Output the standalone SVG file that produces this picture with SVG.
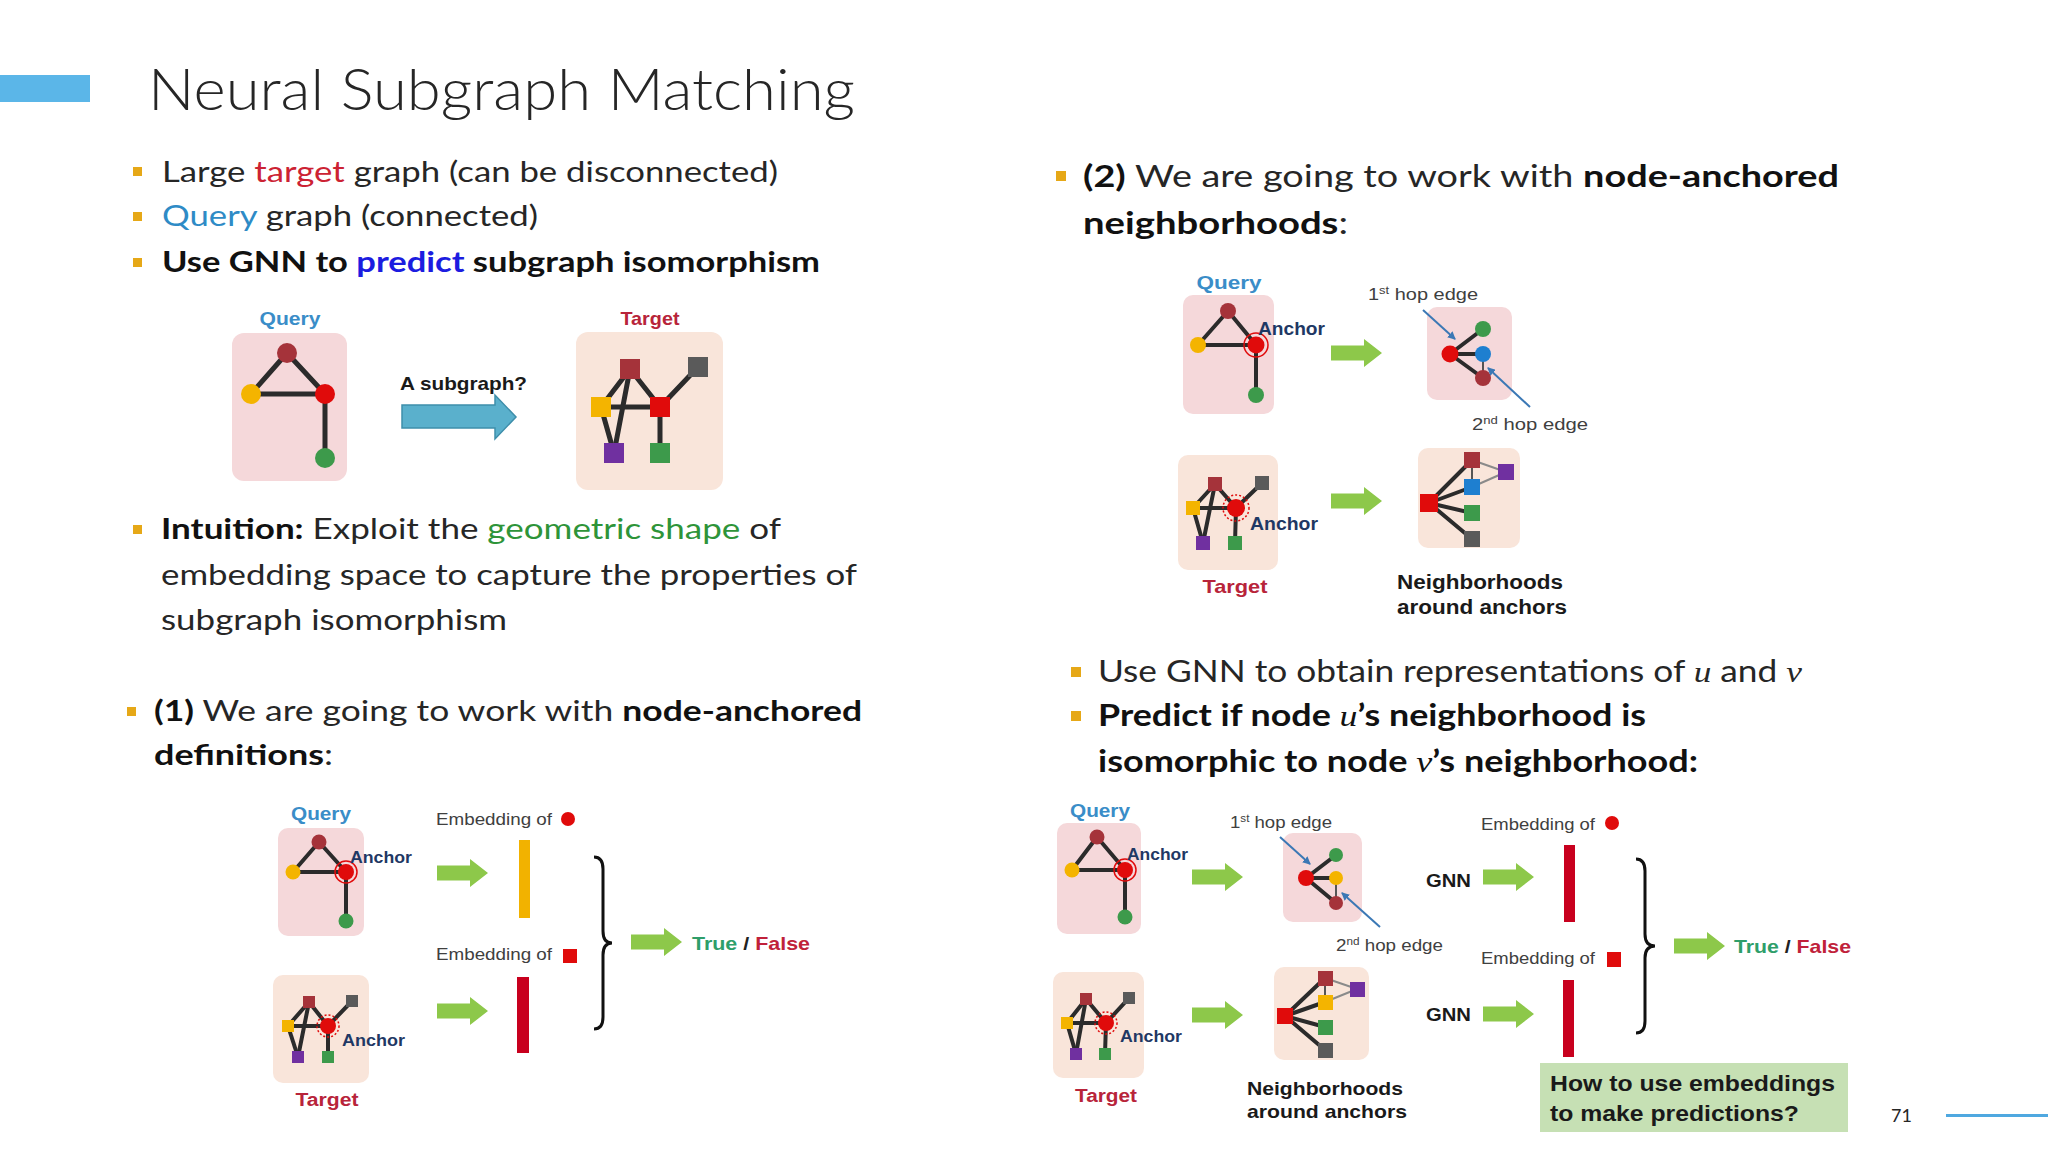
<svg xmlns="http://www.w3.org/2000/svg" xmlns:xlink="http://www.w3.org/1999/xlink" width="2048" height="1152" viewBox="0 0 2048 1152">
<style>
.t{font-family:Lato,'Open Sans','Liberation Sans',sans-serif;fill:#262626}
.bd{font-weight:700;fill:#111}
.f{font-family:'Liberation Sans',Arial,sans-serif}
.e{stroke:#2b2b2b;stroke-width:4;stroke-linecap:round}
.e5{stroke-width:5}
.thin{stroke:#555;stroke-width:2}
.thinl{stroke:#8a8a8a;stroke-width:2}
.qb{fill:#F5D8DA}
.tb{fill:#F9E5DA}
.mar{fill:#A5333A}
.red{fill:#E00B0B}
.yel{fill:#F4B400}
.grn{fill:#3D9A4B}
.pur{fill:#7030A0}
.gry{fill:#5A5A5A}
.blu{fill:#1E7FD0}
.ring{fill:none;stroke:#E00B0B;stroke-width:1.5}
.dring{fill:none;stroke:#E00B0B;stroke-width:1.5;stroke-dasharray:2 2}
.ga{fill:#8DC84A}
.ptr{stroke:#3B78B5;stroke-width:2;marker-end:url(#ah)}
.brace{fill:none;stroke:#111;stroke-width:3}
.bul{fill:#E6A817}
.ql{fill:#3A8DC8;font-weight:700}
.tl{fill:#B8243A;font-weight:700}
.an{fill:#1F3864;font-weight:700}
.sm{fill:#404040}
.bk{fill:#1a1a1a;font-weight:700}
.m{font-family:'Liberation Serif',serif;font-style:italic;font-weight:400}
</style>
<defs>
<path id="ga" class="ga" d="M0,-7.5H33V-14L51,0L33,14V7.5H0Z"/>
<marker id="ah" markerWidth="8" markerHeight="8" refX="7" refY="4" orient="auto" markerUnits="userSpaceOnUse"><path d="M0,0L8,4L0,8Z" fill="#3B78B5"/></marker>
</defs>
<rect width="2048" height="1152" fill="#ffffff"/>

<g id="header">
<rect x="0" y="75" width="90" height="27" fill="#5BB6E8"/>
<text x="148" y="110" class="t" font-size="58" font-weight="300" fill="#2a2a2a" textLength="707" lengthAdjust="spacingAndGlyphs">Neural Subgraph Matching</text>
</g>

<g id="bullets-left">
<rect class="bul" x="133" y="167" width="9" height="9"/>
<text x="162" y="182" class="t" font-size="29" textLength="616" lengthAdjust="spacingAndGlyphs">Large <tspan fill="#CC2233">target</tspan> graph (can be disconnected)</text>
<rect class="bul" x="133" y="212" width="9" height="9"/>
<text x="162" y="226" class="t" font-size="29" textLength="376" lengthAdjust="spacingAndGlyphs"><tspan fill="#2E8BC6">Query</tspan> graph (connected)</text>
<rect class="bul" x="133" y="258" width="9" height="9"/>
<text x="162" y="272" class="t bd" font-size="29" textLength="658" lengthAdjust="spacingAndGlyphs">Use GNN to <tspan fill="#1C1CE0">predict</tspan> subgraph isomorphism</text>

<rect class="bul" x="133" y="525" width="9" height="9"/>
<text x="161" y="539" class="t" font-size="29" textLength="620" lengthAdjust="spacingAndGlyphs"><tspan class="bd">Intuition:</tspan> Exploit the <tspan fill="#2E9439">geometric shape</tspan> of</text>
<text x="161" y="585" class="t" font-size="29" textLength="696" lengthAdjust="spacingAndGlyphs">embedding space to capture the properties of</text>
<text x="161" y="630" class="t" font-size="29" textLength="346" lengthAdjust="spacingAndGlyphs">subgraph isomorphism</text>

<rect class="bul" x="127" y="707" width="9" height="9"/>
<text x="154" y="721" class="t" font-size="29" textLength="708" lengthAdjust="spacingAndGlyphs"><tspan class="bd">(1)</tspan> We are going to work with <tspan class="bd">node-anchored</tspan></text>
<text x="154" y="765" class="t" font-size="29" textLength="179" lengthAdjust="spacingAndGlyphs"><tspan class="bd">definitions</tspan>:</text>
</g>

<g id="bullets-right">
<rect class="bul" x="1056" y="171" width="10" height="10"/>
<text x="1083" y="187" class="t" font-size="31" textLength="756" lengthAdjust="spacingAndGlyphs"><tspan class="bd">(2)</tspan> We are going to work with <tspan class="bd">node-anchored</tspan></text>
<text x="1083" y="234" class="t" font-size="31" textLength="265" lengthAdjust="spacingAndGlyphs"><tspan class="bd">neighborhoods</tspan>:</text>

<rect class="bul" x="1071" y="667" width="10" height="10"/>
<text x="1098" y="682" class="t" font-size="30" textLength="704" lengthAdjust="spacingAndGlyphs">Use GNN to obtain representations of <tspan class="m">u</tspan> and <tspan class="m">v</tspan></text>
<rect class="bul" x="1071" y="711" width="10" height="10"/>
<text x="1098" y="726" class="t bd" font-size="30" textLength="548" lengthAdjust="spacingAndGlyphs">Predict if node <tspan class="m">u</tspan>’s neighborhood is</text>
<text x="1098" y="772" class="t bd" font-size="30" textLength="600" lengthAdjust="spacingAndGlyphs">isomorphic to node <tspan class="m">v</tspan>’s neighborhood:</text>
</g>

<!-- Top-left query graph -->
<g id="q0">
<text x="290" y="325" class="f ql" font-size="19" text-anchor="middle" textLength="61" lengthAdjust="spacingAndGlyphs">Query</text>
<rect class="qb" x="232" y="333" width="115" height="148" rx="12"/>
<g class="e e5"><line x1="287" y1="353" x2="251" y2="394"/><line x1="287" y1="353" x2="325" y2="394"/><line x1="251" y1="394" x2="325" y2="394"/><line x1="325" y1="394" x2="325" y2="458"/></g>
<circle class="mar" cx="287" cy="353" r="10"/><circle class="yel" cx="251" cy="394" r="10"/><circle class="red" cx="325" cy="394" r="10"/><circle class="grn" cx="325" cy="458" r="10"/>
</g>

<!-- Top-left target graph -->
<g id="t0">
<text x="650" y="325" class="f tl" font-size="19" text-anchor="middle" textLength="59" lengthAdjust="spacingAndGlyphs">Target</text>
<rect class="tb" x="576" y="332" width="147" height="158" rx="12"/>
<g class="e e5"><line x1="630" y1="369" x2="601" y2="407"/><line x1="630" y1="369" x2="660" y2="407"/><line x1="630" y1="369" x2="614" y2="453"/><line x1="601" y1="407" x2="660" y2="407"/><line x1="601" y1="407" x2="614" y2="453"/><line x1="660" y1="407" x2="698" y2="367"/><line x1="660" y1="407" x2="660" y2="453"/></g>
<rect class="mar" x="620" y="359" width="20" height="20"/><rect class="gry" x="688" y="357" width="20" height="20"/><rect class="yel" x="591" y="397" width="20" height="20"/><rect class="red" x="650" y="397" width="20" height="20"/><rect class="pur" x="604" y="443" width="20" height="20"/><rect class="grn" x="650" y="443" width="20" height="20"/>
</g>

<g id="subgraph-label">
<text x="400" y="390" class="f bk" font-size="19" textLength="127" lengthAdjust="spacingAndGlyphs">A subgraph?</text>
</g>

<!-- Top-right: query + neighborhood -->
<g id="q1">
<text x="1229" y="289" class="f ql" font-size="19" text-anchor="middle" textLength="65" lengthAdjust="spacingAndGlyphs">Query</text>
<rect class="qb" x="1183" y="295" width="91" height="119" rx="10"/>
<g class="e"><line x1="1228" y1="311" x2="1198" y2="345"/><line x1="1228" y1="311" x2="1256" y2="345"/><line x1="1198" y1="345" x2="1256" y2="345"/><line x1="1256" y1="345" x2="1256" y2="395"/></g>
<circle class="mar" cx="1228" cy="311" r="8"/><circle class="yel" cx="1198" cy="345" r="8"/><circle class="red" cx="1256" cy="345" r="8.5"/><circle class="ring" cx="1256" cy="345" r="12"/><circle class="grn" cx="1256" cy="395" r="8"/>
<text x="1258" y="335" class="f an" font-size="18" textLength="67" lengthAdjust="spacingAndGlyphs">Anchor</text>
</g>
<g id="n1">
<rect class="qb" x="1427" y="307" width="85" height="93" rx="10"/>
<g class="e"><line x1="1450" y1="354" x2="1483" y2="329"/><line x1="1450" y1="354" x2="1483" y2="354"/><line x1="1450" y1="354" x2="1483" y2="378"/></g>
<line class="e thin" x1="1483" y1="354" x2="1483" y2="378"/>
<circle class="red" cx="1450" cy="354" r="8.5"/><circle class="grn" cx="1483" cy="329" r="8"/><circle class="blu" cx="1483" cy="354" r="8"/><circle class="mar" cx="1483" cy="378" r="8"/>
<text x="1368" y="300" class="f sm" font-size="17" textLength="110" lengthAdjust="spacingAndGlyphs">1<tspan font-size="11" dy="-6">st</tspan><tspan dy="6"> hop edge</tspan></text>
<text x="1472" y="430" class="f sm" font-size="17" textLength="116" lengthAdjust="spacingAndGlyphs">2<tspan font-size="11" dy="-6">nd</tspan><tspan dy="6"> hop edge</tspan></text>
</g>
<g id="t1">
<rect class="tb" x="1178" y="455" width="100" height="115" rx="10"/>
<g class="e"><line x1="1215" y1="484" x2="1193" y2="508"/><line x1="1215" y1="484" x2="1236" y2="508"/><line x1="1215" y1="484" x2="1203" y2="543"/><line x1="1193" y1="508" x2="1236" y2="508"/><line x1="1193" y1="508" x2="1203" y2="543"/><line x1="1236" y1="508" x2="1262" y2="483"/><line x1="1236" y1="508" x2="1235" y2="543"/></g>
<rect class="mar" x="1208" y="477" width="14" height="14"/><rect class="gry" x="1255" y="476" width="14" height="14"/><rect class="yel" x="1186" y="501" width="14" height="14"/><rect class="pur" x="1196" y="536" width="14" height="14"/><rect class="grn" x="1228" y="536" width="14" height="14"/>
<circle class="red" cx="1236" cy="508" r="9"/><circle class="dring" cx="1236" cy="508" r="13"/>
<text x="1250" y="530" class="f an" font-size="18" textLength="68" lengthAdjust="spacingAndGlyphs">Anchor</text>
<text x="1235" y="593" class="f tl" font-size="19" text-anchor="middle" textLength="65" lengthAdjust="spacingAndGlyphs">Target</text>
</g>
<g id="n2">
<rect class="tb" x="1418" y="448" width="102" height="100" rx="10"/>
<line class="e thinl" x1="1472" y1="460" x2="1506" y2="472"/><line class="e thinl" x1="1472" y1="487" x2="1506" y2="472"/><line class="e thin" x1="1472" y1="460" x2="1472" y2="487"/>
<g class="e"><line x1="1429" y1="503" x2="1472" y2="460"/><line x1="1429" y1="503" x2="1472" y2="487"/><line x1="1429" y1="503" x2="1472" y2="513"/><line x1="1429" y1="503" x2="1472" y2="539"/></g>
<rect class="red" x="1420" y="494" width="18" height="18"/><rect class="mar" x="1464" y="452" width="16" height="16"/><rect class="blu" x="1464" y="479" width="16" height="16"/><rect class="pur" x="1498" y="464" width="16" height="16"/><rect class="grn" x="1464" y="505" width="16" height="16"/><rect class="gry" x="1464" y="531" width="16" height="16"/>
<text x="1397" y="589" class="f bk" font-size="20" textLength="166" lengthAdjust="spacingAndGlyphs">Neighborhoods</text>
<text x="1397" y="614" class="f bk" font-size="20" textLength="170" lengthAdjust="spacingAndGlyphs">around anchors</text>
</g>

<!-- Bottom-left -->
<g id="q2">
<text x="321" y="820" class="f ql" font-size="18" text-anchor="middle" textLength="60" lengthAdjust="spacingAndGlyphs">Query</text>
<rect class="qb" x="278" y="828" width="86" height="108" rx="10"/>
<g class="e"><line x1="319" y1="842" x2="293" y2="872"/><line x1="319" y1="842" x2="346" y2="872"/><line x1="293" y1="872" x2="346" y2="872"/><line x1="346" y1="872" x2="346" y2="921"/></g>
<circle class="mar" cx="319" cy="842" r="7.5"/><circle class="yel" cx="293" cy="872" r="7.5"/><circle class="red" cx="346" cy="872" r="8"/><circle class="ring" cx="346" cy="872" r="11"/><circle class="grn" cx="346" cy="921" r="7.5"/>
<text x="350" y="863" class="f an" font-size="17" textLength="62" lengthAdjust="spacingAndGlyphs">Anchor</text>
</g>
<g id="t2">
<rect class="tb" x="273" y="975" width="96" height="108" rx="10"/>
<g class="e"><line x1="309" y1="1002" x2="288" y2="1026"/><line x1="309" y1="1002" x2="328" y2="1026"/><line x1="309" y1="1002" x2="298" y2="1057"/><line x1="288" y1="1026" x2="328" y2="1026"/><line x1="288" y1="1026" x2="298" y2="1057"/><line x1="328" y1="1026" x2="352" y2="1001"/><line x1="328" y1="1026" x2="328" y2="1057"/></g>
<rect class="mar" x="303" y="996" width="12" height="12"/><rect class="gry" x="346" y="995" width="12" height="12"/><rect class="yel" x="282" y="1020" width="12" height="12"/><rect class="pur" x="292" y="1051" width="12" height="12"/><rect class="grn" x="322" y="1051" width="12" height="12"/>
<circle class="red" cx="328" cy="1026" r="8"/><circle class="dring" cx="328" cy="1026" r="11"/>
<text x="342" y="1046" class="f an" font-size="17" textLength="63" lengthAdjust="spacingAndGlyphs">Anchor</text>
<text x="327" y="1106" class="f tl" font-size="18" text-anchor="middle" textLength="63" lengthAdjust="spacingAndGlyphs">Target</text>
</g>
<g id="emb-left">
<text x="436" y="825" class="f sm" font-size="16" textLength="116" lengthAdjust="spacingAndGlyphs">Embedding of</text>
<circle class="red" cx="568" cy="819" r="7"/>
<rect x="519" y="840" width="11" height="78" fill="#F2B200"/>
<text x="436" y="960" class="f sm" font-size="16" textLength="116" lengthAdjust="spacingAndGlyphs">Embedding of</text>
<rect class="red" x="563" y="949" width="14" height="14"/>
<rect x="517" y="977" width="12" height="76" fill="#C8001E"/>
<text x="692" y="950" class="f" font-size="19" font-weight="700" textLength="118" lengthAdjust="spacingAndGlyphs"><tspan fill="#2E9E6A">True</tspan><tspan fill="#222"> / </tspan><tspan fill="#C0213A">False</tspan></text>
</g>

<!-- Bottom-right -->
<g id="q3">
<text x="1100" y="817" class="f ql" font-size="18" text-anchor="middle" textLength="60" lengthAdjust="spacingAndGlyphs">Query</text>
<rect class="qb" x="1057" y="823" width="84" height="111" rx="10"/>
<g class="e"><line x1="1097" y1="837" x2="1072" y2="870"/><line x1="1097" y1="837" x2="1125" y2="870"/><line x1="1072" y1="870" x2="1125" y2="870"/><line x1="1125" y1="870" x2="1125" y2="917"/></g>
<circle class="mar" cx="1097" cy="837" r="7.5"/><circle class="yel" cx="1072" cy="870" r="7.5"/><circle class="red" cx="1125" cy="870" r="8"/><circle class="ring" cx="1125" cy="870" r="11"/><circle class="grn" cx="1125" cy="917" r="7.5"/>
<text x="1127" y="860" class="f an" font-size="17" textLength="61" lengthAdjust="spacingAndGlyphs">Anchor</text>
</g>
<g id="n3">
<rect class="qb" x="1283" y="833" width="79" height="89" rx="10"/>
<g class="e"><line x1="1306" y1="878" x2="1336" y2="855"/><line x1="1306" y1="878" x2="1336" y2="878"/><line x1="1306" y1="878" x2="1336" y2="903"/></g>
<line class="e thin" x1="1336" y1="878" x2="1336" y2="903"/>
<circle class="red" cx="1306" cy="878" r="8"/><circle class="grn" cx="1336" cy="855" r="7"/><circle class="yel" cx="1336" cy="878" r="7"/><circle class="mar" cx="1336" cy="903" r="7"/>
<text x="1230" y="828" class="f sm" font-size="16" textLength="102" lengthAdjust="spacingAndGlyphs">1<tspan font-size="10" dy="-6">st</tspan><tspan dy="6"> hop edge</tspan></text>
<text x="1336" y="951" class="f sm" font-size="16" textLength="107" lengthAdjust="spacingAndGlyphs">2<tspan font-size="10" dy="-6">nd</tspan><tspan dy="6"> hop edge</tspan></text>
</g>
<g id="t3">
<rect class="tb" x="1053" y="972" width="91" height="106" rx="10"/>
<g class="e"><line x1="1086" y1="999" x2="1067" y2="1023"/><line x1="1086" y1="999" x2="1106" y2="1023"/><line x1="1086" y1="999" x2="1076" y2="1054"/><line x1="1067" y1="1023" x2="1106" y2="1023"/><line x1="1067" y1="1023" x2="1076" y2="1054"/><line x1="1106" y1="1023" x2="1129" y2="998"/><line x1="1106" y1="1023" x2="1105" y2="1054"/></g>
<rect class="mar" x="1080" y="993" width="12" height="12"/><rect class="gry" x="1123" y="992" width="12" height="12"/><rect class="yel" x="1061" y="1017" width="12" height="12"/><rect class="pur" x="1070" y="1048" width="12" height="12"/><rect class="grn" x="1099" y="1048" width="12" height="12"/>
<circle class="red" cx="1106" cy="1023" r="8"/><circle class="dring" cx="1106" cy="1023" r="11"/>
<text x="1120" y="1042" class="f an" font-size="17" textLength="62" lengthAdjust="spacingAndGlyphs">Anchor</text>
<text x="1106" y="1102" class="f tl" font-size="18" text-anchor="middle" textLength="62" lengthAdjust="spacingAndGlyphs">Target</text>
</g>
<g id="n4">
<rect class="tb" x="1274" y="967" width="95" height="93" rx="10"/>
<line class="e thinl" x1="1325" y1="978" x2="1357" y2="989"/><line class="e thinl" x1="1325" y1="1002" x2="1357" y2="989"/><line class="e thin" x1="1325" y1="978" x2="1325" y2="1002"/>
<g class="e"><line x1="1285" y1="1016" x2="1325" y2="978"/><line x1="1285" y1="1016" x2="1325" y2="1002"/><line x1="1285" y1="1016" x2="1325" y2="1027"/><line x1="1285" y1="1016" x2="1325" y2="1050"/></g>
<rect class="red" x="1277" y="1008" width="16" height="16"/><rect class="mar" x="1318" y="971" width="15" height="15"/><rect class="yel" x="1318" y="995" width="15" height="15"/><rect class="pur" x="1350" y="982" width="15" height="15"/><rect class="grn" x="1318" y="1020" width="15" height="15"/><rect class="gry" x="1318" y="1043" width="15" height="15"/>
<text x="1247" y="1095" class="f bk" font-size="19" textLength="156" lengthAdjust="spacingAndGlyphs">Neighborhoods</text>
<text x="1247" y="1118" class="f bk" font-size="19" textLength="160" lengthAdjust="spacingAndGlyphs">around anchors</text>
</g>
<g id="emb-right">
<text x="1426" y="887" class="f bk" font-size="19" textLength="45" lengthAdjust="spacingAndGlyphs">GNN</text>
<text x="1426" y="1021" class="f bk" font-size="19" textLength="45" lengthAdjust="spacingAndGlyphs">GNN</text>
<text x="1481" y="830" class="f sm" font-size="16" textLength="114" lengthAdjust="spacingAndGlyphs">Embedding of</text>
<circle class="red" cx="1612" cy="823" r="7"/>
<rect x="1564" y="845" width="11" height="77" fill="#C8001E"/>
<text x="1481" y="964" class="f sm" font-size="16" textLength="114" lengthAdjust="spacingAndGlyphs">Embedding of</text>
<rect class="red" x="1607" y="952" width="14" height="15"/>
<rect x="1563" y="980" width="11" height="77" fill="#C8001E"/>
<text x="1734" y="953" class="f" font-size="19" font-weight="700" textLength="117" lengthAdjust="spacingAndGlyphs"><tspan fill="#2E9E6A">True</tspan><tspan fill="#222"> / </tspan><tspan fill="#C0213A">False</tspan></text>
</g>
<g id="question-box">
<rect x="1540" y="1063" width="308" height="69" fill="#C6E0B4"/>
<text x="1550" y="1091" class="f bk" font-size="22" textLength="285" lengthAdjust="spacingAndGlyphs">How to use embeddings</text>
<text x="1550" y="1121" class="f bk" font-size="22" textLength="249" lengthAdjust="spacingAndGlyphs">to make predictions?</text>
</g>
<g id="footer">
<text x="1891" y="1122" class="t" font-size="18" fill="#8a8a8a">71</text>
<rect x="1946" y="1114" width="102" height="3" fill="#4FA8E0"/>
</g>

<g id="connectors">
<path d="M402,405H495V395L516,417L495,439V428H402Z" fill="#5AB0CC" stroke="#3E8EAA" stroke-width="1.5"/>
<use xlink:href="#ga" x="1331" y="353"/>
<use xlink:href="#ga" x="1331" y="501"/>
<use xlink:href="#ga" x="437" y="873"/>
<use xlink:href="#ga" x="437" y="1011"/>
<use xlink:href="#ga" x="631" y="942"/>
<use xlink:href="#ga" x="1192" y="877"/>
<use xlink:href="#ga" x="1192" y="1015"/>
<use xlink:href="#ga" x="1483" y="877"/>
<use xlink:href="#ga" x="1483" y="1014"/>
<use xlink:href="#ga" x="1674" y="946"/>
<line class="ptr" x1="1423" y1="310" x2="1455" y2="339"/>
<line class="ptr" x1="1530" y1="407" x2="1488" y2="368"/>
<line class="ptr" x1="1280" y1="837" x2="1310" y2="864"/>
<line class="ptr" x1="1380" y1="927" x2="1342" y2="893"/>
<path class="brace" d="M594,857 Q603,857 603,869 V931 Q603,943 612,943 Q603,943 603,955 V1017 Q603,1029 594,1029"/>
<path class="brace" d="M1636,859 Q1645,859 1645,871 V934 Q1645,946 1655,946 Q1645,946 1645,958 V1021 Q1645,1033 1636,1033"/>
</g>
</svg>
